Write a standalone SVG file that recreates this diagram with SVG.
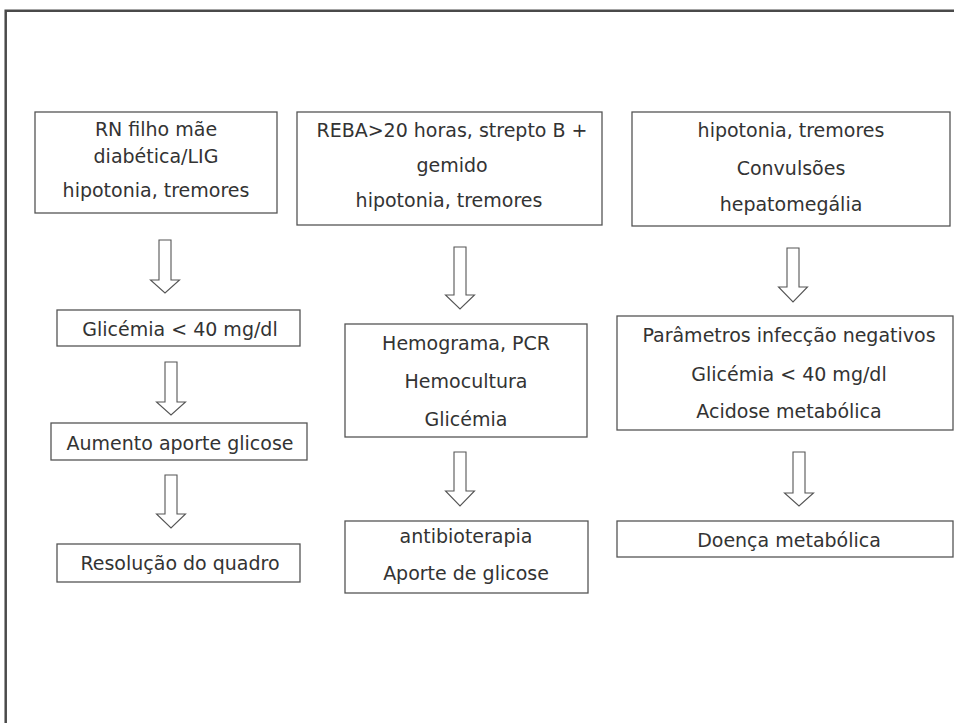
<svg xmlns="http://www.w3.org/2000/svg" width="954" height="723" viewBox="0 0 954 723">
<style>
.box{fill:#fff;stroke:#555;stroke-width:1.3}
.t{font-family:"DejaVu Sans",sans-serif;font-size:19px;fill:#333;text-anchor:middle}
.arr{fill:#fff;stroke:#555;stroke-width:1.1;stroke-linejoin:miter}
.frame{fill:none;stroke:#4a4a4a;stroke-width:2.5}
</style>
<rect width="954" height="723" fill="#fff"/>
<path class="frame" d="M5.7 723 V10.7 H954"/>
<g id="n1"><rect class="box" x="35" y="112" width="242" height="101"/>
<text class="t" x="156" y="136">RN filho mãe</text>
<text class="t" x="156" y="163">diabética/LIG</text>
<text class="t" x="156" y="197">hipotonia, tremores</text></g>
<g id="n2"><rect class="box" x="297" y="112" width="305" height="113"/>
<text class="t" x="452" y="137">REBA&gt;20 horas, strepto B +</text>
<text class="t" x="452" y="172">gemido</text>
<text class="t" x="449" y="207">hipotonia, tremores</text></g>
<g id="n3"><rect class="box" x="632" y="112" width="318" height="114"/>
<text class="t" x="791" y="137">hipotonia, tremores</text>
<text class="t" x="791" y="175">Convulsões</text>
<text class="t" x="791" y="211">hepatomegália</text></g>
<g id="n4"><rect class="box" x="57" y="310" width="243" height="36"/>
<text class="t" x="180" y="336">Glicémia &lt; 40 mg/dl</text></g>
<g id="n5"><rect class="box" x="51" y="423" width="256" height="37"/>
<text class="t" x="180" y="450">Aumento aporte glicose</text></g>
<g id="n6"><rect class="box" x="57" y="544" width="243" height="38"/>
<text class="t" x="180" y="570">Resolução do quadro</text></g>
<g id="n7"><rect class="box" x="345" y="324" width="242" height="113"/>
<text class="t" x="466" y="350">Hemograma, PCR</text>
<text class="t" x="466" y="388">Hemocultura</text>
<text class="t" x="466" y="426">Glicémia</text></g>
<g id="n8"><rect class="box" x="345" y="521" width="243" height="72"/>
<text class="t" x="466" y="543">antibioterapia</text>
<text class="t" x="466" y="580">Aporte de glicose</text></g>
<g id="n9"><rect class="box" x="617" y="316" width="336" height="114"/>
<text class="t" x="789" y="342">Parâmetros infecção negativos</text>
<text class="t" x="789" y="381">Glicémia &lt; 40 mg/dl</text>
<text class="t" x="789" y="418">Acidose metabólica</text></g>
<g id="n10"><rect class="box" x="617" y="521" width="336" height="36"/>
<text class="t" x="789" y="547">Doença metabólica</text></g>
<g id="connectors">
<path class="arr" d="M159 240 H171 V280 H179.5 L165 293 L150.5 280 H159 Z"/>
<path class="arr" d="M165 362 H177 V402 H185.5 L171 415 L156.5 402 H165 Z"/>
<path class="arr" d="M165 475 H177 V514 H185.5 L171 528 L156.5 514 H165 Z"/>
<path class="arr" d="M454 247 H466 V295 H474.5 L460 309 L445.5 295 H454 Z"/>
<path class="arr" d="M454 452 H466 V491 H474.5 L460 506 L445.5 491 H454 Z"/>
<path class="arr" d="M787 248 H799 V287 H807.5 L793 302 L778.5 287 H787 Z"/>
<path class="arr" d="M793 452 H805 V493 H813.5 L799 506 L784.5 493 H793 Z"/>
</g>
</svg>
